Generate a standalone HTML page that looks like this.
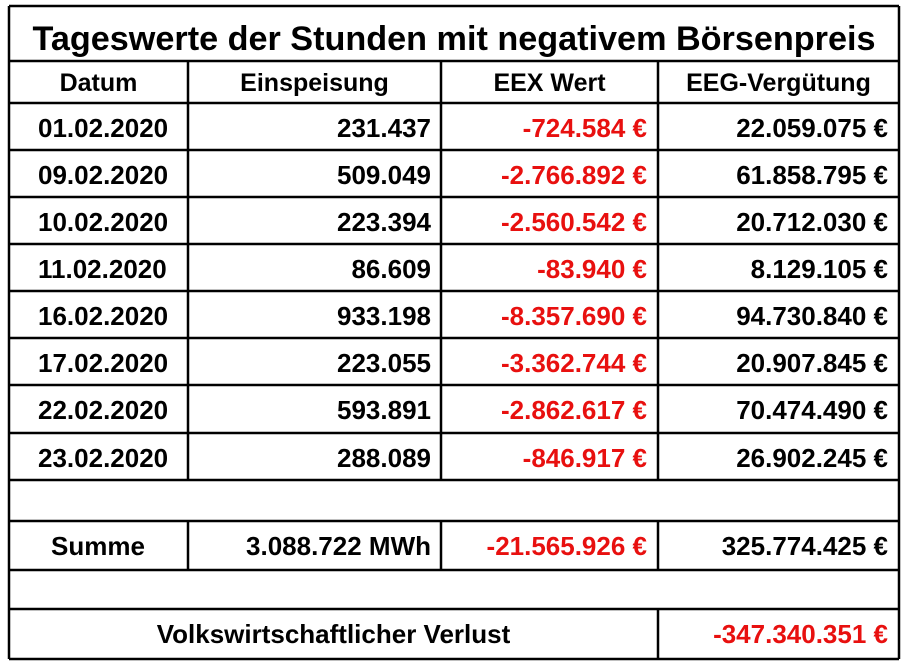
<!DOCTYPE html>
<html><head><meta charset="utf-8"><style>
html,body{margin:0;padding:0;background:#fff;width:906px;height:662px;overflow:hidden}
svg text{font-family:"Liberation Sans",Arial,sans-serif;font-weight:bold}
</style></head><body>
<svg id="t" width="906" height="662" viewBox="0 0 906 662" xmlns="http://www.w3.org/2000/svg"></svg>
<script>
const dates=["01.02.2020","09.02.2020","10.02.2020","11.02.2020","16.02.2020","17.02.2020","22.02.2020","23.02.2020"];
const feedIn=["231.437","509.049","223.394","86.609","933.198","223.055","593.891","288.089"];
const eexValue=["-724.584 €","-2.766.892 €","-2.560.542 €","-83.940 €","-8.357.690 €","-3.362.744 €","-2.862.617 €","-846.917 €"];
const eegPay=["22.059.075 €","61.858.795 €","20.712.030 €","8.129.105 €","94.730.840 €","20.907.845 €","70.474.490 €","26.902.245 €"];
const headers=["Datum","Einspeisung","EEX Wert","EEG-Vergütung"];
const svg=document.getElementById('t');
const NS="http://www.w3.org/2000/svg";
const L=9,R=899,C1=188,C2=441,C3=658;
const RED="#e8100f";
function line(x1,y1,x2,y2,name){const l=document.createElementNS(NS,'line');
l.setAttribute('x1',x1);l.setAttribute('y1',y1);l.setAttribute('x2',x2);l.setAttribute('y2',y2);
l.setAttribute('stroke','#000');l.setAttribute('stroke-width','2.5');


svg.appendChild(l);}
function txt(s,x,y,anchor,size,color,name,len){const t=document.createElementNS(NS,'text');
t.setAttribute('x',x);t.setAttribute('y',y);t.setAttribute('text-anchor',anchor);
t.setAttribute('font-size',size);t.setAttribute('fill',color||'#000');
if(len){t.setAttribute('textLength',len);t.setAttribute('lengthAdjust','spacingAndGlyphs');}
t.textContent=s;


svg.appendChild(t);}
// horizontal lines
const rowTops=[103,150,197,244,291,338,385,433,480];
line(L,6,R,6,'table-top-border');
line(L,61,R,61,'title-divider');
rowTops.forEach((y,i)=>line(L,y,R,y,'row-divider'));
[521,570,609,659].forEach(y=>line(L,y,R,y,'row-divider'));
line(L,6,L,659,'table-left-border');
line(R,6,R,659,'table-right-border');
[C1,C2,C3].forEach(x=>{line(x,61,x,480,'column-divider');line(x,521,x,570,'column-divider');});
line(C3,609,C3,659,'column-divider');
txt("Tageswerte der Stunden mit negativem Börsenpreis",(L+R)/2,50,'middle',34,'#000','table-title',843);
const hc=[(L+C1)/2,(C1+C2)/2,(C2+C3)/2,(C3+R)/2];
headers.forEach((h,i)=>txt(h,hc[i],91,'middle',25,'#000','header-'+h.toLowerCase().replace(/[^a-z]/g,'-')));
dates.forEach((d,i)=>{const y=rowTops[i]+34;
txt(d,38,y,'start',26,'#000','date-cell');
txt(feedIn[i],431,y,'end',26,'#000','feed-in-cell');
txt(eexValue[i],647,y,'end',26,RED,'eex-value-cell');
txt(eegPay[i],888,y,'end',26,'#000','eeg-payment-cell');});
txt("Summe",98,555,'middle',26,'#000','sum-label');
txt("3.088.722 MWh",431,555,'end',26,'#000','sum-feed-in');
txt("-21.565.926 €",647,555,'end',26,RED,'sum-eex-value');
txt("325.774.425 €",888,555,'end',26,'#000','sum-eeg-payment');
txt("Volkswirtschaftlicher Verlust",(L+C3)/2,643,'middle',26,'#000','economic-loss-label');
txt("-347.340.351 €",888,643,'end',26,RED,'economic-loss-value');
</script>
</body></html>
